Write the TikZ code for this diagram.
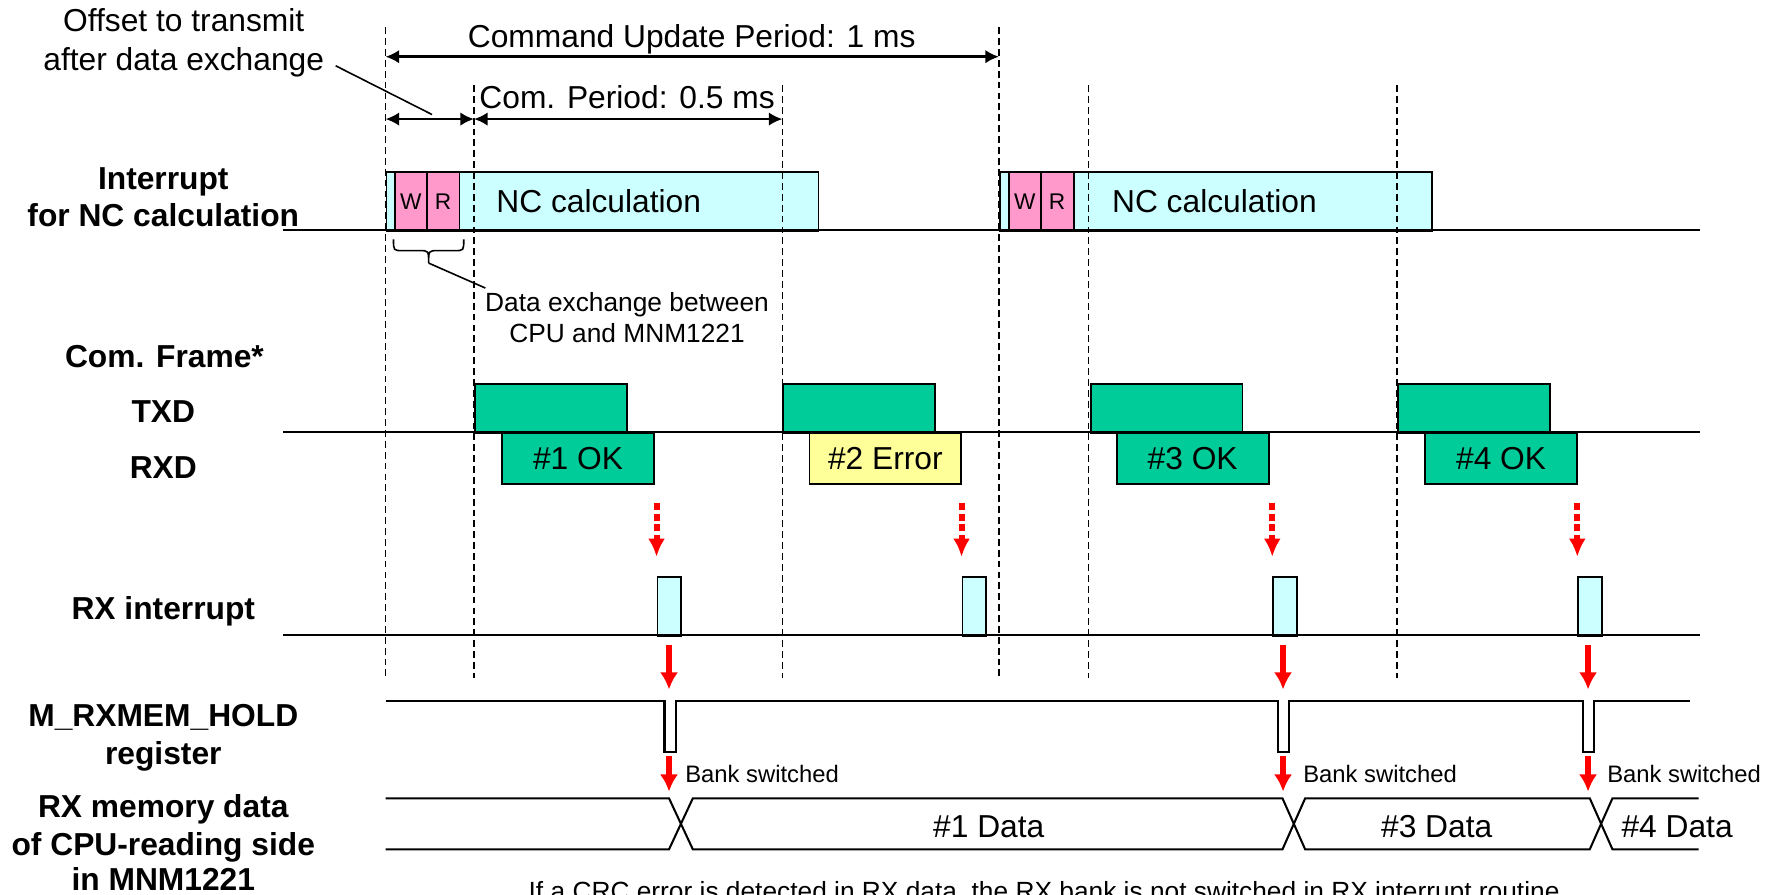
\documentclass[tikz,border=0pt]{standalone}
\usepackage{fontspec}
\setmainfont{Liberation Sans}
\usetikzlibrary{arrows.meta}
\definecolor{cyanbox}{HTML}{CCFFFF}
\definecolor{pinkbox}{HTML}{FF99CC}
\definecolor{greenbox}{HTML}{00CC99}
\definecolor{yellowbox}{HTML}{FFFF99}
\tikzset{
 lbl/.style={font=\fontsize{14}{16}\selectfont\bfseries, text height=10pt, text depth=0pt, inner sep=0pt},
 txt/.style={font=\fontsize{14}{16}\selectfont, text height=10pt, text depth=0pt, inner sep=0pt},
 smalltxt/.style={font=\fontsize{11.6}{13}\selectfont, text height=8.3pt, text depth=0pt, inner sep=0pt},
 banktxt/.style={font=\fontsize{10.5}{12}\selectfont, text height=7.5pt, text depth=0pt, inner sep=0pt, anchor=west},
 tinytxt/.style={font=\fontsize{10}{11}\selectfont, text height=7.2pt, text depth=0pt},
 sig/.style={line width=1pt},
 boxn/.style={draw, line width=0.8pt, inner sep=0pt, anchor=north west},
 nc/.style={boxn, fill=cyanbox, minimum width=190.5pt, minimum height=26pt},
 wr/.style={boxn, fill=pinkbox, minimum height=26pt, tinytxt},
 txb/.style={boxn, fill=greenbox, minimum width=67pt, minimum height=21.5pt},
 rxb/.style={boxn, minimum width=67pt, minimum height=22.5pt, font=\fontsize{14}{16}\selectfont, text height=10pt, text depth=0pt},
 rib/.style={boxn, fill=cyanbox, minimum width=10.5pt, minimum height=26pt},
 vdash/.style={dash pattern=on 3pt off 1.8pt, line width=0.75pt},
 dimarrow/.style={line width=1.2pt, {Latex[length=6pt,width=6pt]}-{Latex[length=6pt,width=6pt]}},
 redd/.style={red, line width=2.6pt, dash pattern=on 3pt off 1.6pt, -{Latex[length=8pt,width=7.5pt]}},
 reds/.style={red, line width=2.6pt, -{Latex[length=7.5pt,width=8pt]}},
 leader/.style={line width=0.7pt},
}
\begin{document}
\begin{tikzpicture}[x=0.5pt,y=-0.5pt]
\useasboundingbox (0,0) rectangle (1568,789);

% ---- Interrupt row boxes
\node[nc] (nc1) at (340,151) {};
\node[wr, minimum width=14pt] (w1) at (347.5,151) {W};
\node[wr, minimum width=14.5pt] (r1) at (375.5,151) {R};
\node[txt] (nct1) at (528,177) {NC calculation};
\node[nc] (nc2) at (881,151) {};
\node[wr, minimum width=14pt] (w2) at (889,151) {W};
\node[wr, minimum width=14.5pt] (r2) at (917,151) {R};
\node[txt] (nct2) at (1071,177) {NC calculation};

% ---- TXD / RXD boxes
\node[txb] (tx1) at (418,338) {};
\node[txb] (tx2) at (690,338) {};
\node[txb] (tx3) at (961,338) {};
\node[txb] (tx4) at (1232,338) {};
\node[rxb, fill=greenbox] (rx1) at (442,381) {\#1 OK};
\node[rxb, fill=yellowbox] (rx2) at (713,381) {\#2 Error};
\node[rxb, fill=greenbox] (rx3) at (984,381) {\#3 OK};
\node[rxb, fill=greenbox] (rx4) at (1256,381) {\#4 OK};

% ---- RX interrupt boxes
\node[rib] (ri1) at (579,508) {};
\node[rib] (ri2) at (848,508) {};
\node[rib] (ri3) at (1122,508) {};
\node[rib] (ri4) at (1391,508) {};

% ---- baselines
\draw[sig] (250,203) -- (1499,203);
\draw[sig] (250,381) -- (1499,381);
\draw[sig] (250,560) -- (1499,560);

% ---- dashed verticals
\draw[vdash] (340,24) -- (340,598);
\draw[vdash] (881,24) -- (881,598);
\draw[vdash] (418,75) -- (418,598);
\draw[vdash] (690,75) -- (690,598);
\draw[vdash] (960,75) -- (960,598);
\draw[vdash] (1232,75) -- (1232,598);

% ---- dimension arrows
\coordinate (c0) at (340,50); \coordinate (c1) at (881,50);
\draw[dimarrow] (c0) -- (c1);
\coordinate (o0) at (340,105); \coordinate (o1) at (418,105); \coordinate (o2) at (690,105);
\draw[dimarrow] (o0) -- (o1);
\draw[dimarrow] (o1) -- (o2);
\node[txt] (cup) at (610,32) {Command Update Period: 1 ms};
\node[txt] (cp) at (553,86) {Com. Period: 0.5 ms};
\node[txt] (off1) at (162,18) {Offset to transmit};
\node[txt] (off2) at (162,52) {after data exchange};
\coordinate (offA) at (296,58); \coordinate (offB) at (381,101);
\draw[leader] (offA) -- (offB);

% ---- brace + data exchange note
\coordinate (brtip) at (378,232);
\draw[leader] (347,211) .. controls (347,221) .. (355,221) -- (370,221) .. controls (378,221) .. (brtip)
  .. controls (378,221) .. (386,221) -- (401,221) .. controls (409,221) .. (409,211);
\coordinate (dxA) at (428,254);
\draw[leader] (brtip) -- (dxA);
\node[smalltxt] (dx1) at (553,266) {Data exchange between};
\node[smalltxt] (dx2) at (553,294) {CPU and MNM1221};

% ---- row labels
\node[lbl] (l1) at (144,157) {Interrupt};
\node[lbl] (l2) at (144,190) {for NC calculation};
\node[lbl] (l3) at (145,314) {Com. Frame*};
\node[lbl] (l4) at (144,363) {TXD};
\node[lbl] (l5) at (144,412) {RXD};
\node[lbl] (l6) at (144,536) {RX interrupt};
\node[lbl] (l7) at (144,631) {M\_RXMEM\_HOLD};
\node[lbl] (l8) at (144,664) {register};
\node[lbl] (l9) at (144,711) {RX memory data};
\node[lbl] (l10) at (144,744) {of CPU-reading side};
\node[lbl] (l11) at (144,775) {in MNM1221};

% ---- red dashed arrows (RX end -> RX interrupt)
\foreach \x/\n in {579/1,848/2,1122/3,1391/4}{
  \coordinate (rdA\n) at (\x,444);
  \coordinate (rdB\n) at (\x,491);
  \draw[redd] (rdA\n) -- (rdB\n);
}

% ---- red solid arrows
\foreach \x/\n in {590/1,1131.5/3,1400.5/4}{
  \coordinate (rsA\n) at (\x,569);
  \coordinate (rsB\n) at (\x,608);
  \draw[reds] (rsA\n) -- (rsB\n);
  \coordinate (rtA\n) at (\x,667);
  \coordinate (rtB\n) at (\x,698);
  \draw[reds] (rtA\n) -- (rtB\n);
}

% ---- M_RXMEM_HOLD signal
\draw[line width=0.9pt] (340,618) -- (586,618) -- (586,663) -- (596,663) -- (596,618)
  -- (1127,618) -- (1127,663) -- (1137,663) -- (1137,618)
  -- (1396,618) -- (1396,663) -- (1406,663) -- (1406,618) -- (1490,618);
\node[banktxt] (bs1) at (604,683) {Bank switched};
\node[banktxt] (bs3) at (1149,683) {Bank switched};
\node[banktxt] (bs4) at (1417,683) {Bank switched};

% ---- RX memory bus
\draw[line width=0.9pt] (340,704) -- (590,704) -- (611,749) -- (1131,749) -- (1151,704) -- (1402,704) -- (1422,749) -- (1498,749);
\draw[line width=0.9pt] (340,749) -- (590,749) -- (611,704) -- (1131,704) -- (1151,749) -- (1402,749) -- (1422,704) -- (1498,704);
\node[txt] (d1) at (872,729) {\#1 Data};
\node[txt] (d3) at (1267,729) {\#3 Data};
\node[txt] (d4) at (1479,729) {\#4 Data};

% ---- bottom note (cut by page edge, as in the reference)
\node[smalltxt, anchor=base] (note) at (924,794) {If a CRC error is detected in RX data, the RX bank is not switched in RX interrupt routine.};
\end{tikzpicture}
\end{document}
